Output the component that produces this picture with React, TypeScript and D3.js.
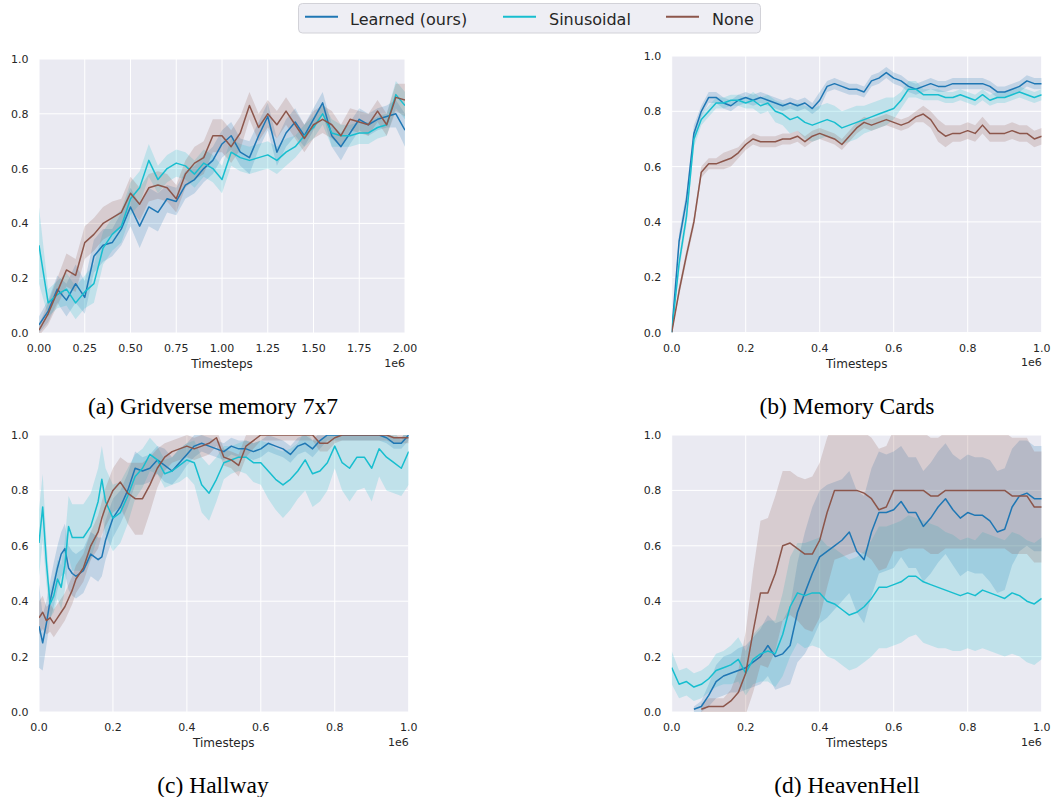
import React from "react";
import * as d3 from "d3";

// Legend / series
const seriesLabels = ["Learned (ours)", "Sinusoidal", "None"];
const seriesColors = ["#1f77b4", "#17becf", "#8c564b"];

// Tick values
const yTicks = [0, 0.2, 0.4, 0.6, 0.8, 1.0];
const gridverseTicks = [0, 0.25, 0.5, 0.75, 1.0, 1.25, 1.5, 1.75, 2.0];
const unitTicks = [0, 0.2, 0.4, 0.6, 0.8, 1.0];

// (a) Gridverse memory 7x7, timesteps in 1e6
const gridverseSteps = [0, 0.05, 0.1, 0.15, 0.2, 0.25, 0.3, 0.35, 0.4, 0.45, 0.5, 0.55, 0.6, 0.65, 0.7, 0.75, 0.8, 0.85, 0.9, 0.95, 1.0, 1.05, 1.1, 1.15, 1.2, 1.25, 1.3, 1.35, 1.4, 1.45, 1.5, 1.55, 1.6, 1.65, 1.7, 1.75, 1.8, 1.85, 1.9, 1.95, 2.0];
const gridverseLearned = [0.03, 0.08, 0.16, 0.12, 0.18, 0.13, 0.28, 0.32, 0.33, 0.38, 0.46, 0.39, 0.46, 0.44, 0.49, 0.48, 0.54, 0.56, 0.6, 0.63, 0.69, 0.72, 0.66, 0.64, 0.72, 0.79, 0.66, 0.73, 0.77, 0.72, 0.78, 0.84, 0.72, 0.68, 0.73, 0.78, 0.76, 0.78, 0.79, 0.8, 0.74];
const gridverseLearnedSpread = [0.03, 0.04, 0.05, 0.06, 0.07, 0.06, 0.06, 0.06, 0.05, 0.06, 0.07, 0.08, 0.07, 0.07, 0.05, 0.05, 0.05, 0.05, 0.05, 0.05, 0.05, 0.05, 0.05, 0.06, 0.05, 0.05, 0.05, 0.05, 0.05, 0.04, 0.04, 0.04, 0.04, 0.05, 0.04, 0.04, 0.04, 0.04, 0.04, 0.05, 0.06];
const gridverseSinusoidal = [0.32, 0.11, 0.14, 0.16, 0.11, 0.15, 0.18, 0.31, 0.36, 0.39, 0.49, 0.53, 0.63, 0.56, 0.6, 0.62, 0.61, 0.58, 0.62, 0.6, 0.56, 0.66, 0.64, 0.63, 0.64, 0.65, 0.63, 0.66, 0.68, 0.72, 0.75, 0.8, 0.73, 0.72, 0.72, 0.73, 0.73, 0.75, 0.76, 0.87, 0.83];
const gridverseSinusoidalSpread = [0.14, 0.05, 0.05, 0.06, 0.06, 0.06, 0.07, 0.06, 0.06, 0.06, 0.06, 0.06, 0.06, 0.05, 0.05, 0.05, 0.05, 0.05, 0.05, 0.05, 0.05, 0.05, 0.05, 0.05, 0.05, 0.05, 0.05, 0.05, 0.04, 0.04, 0.04, 0.04, 0.05, 0.04, 0.04, 0.04, 0.04, 0.04, 0.04, 0.05, 0.05];
const gridverseNone = [0.01, 0.07, 0.15, 0.23, 0.21, 0.33, 0.36, 0.4, 0.42, 0.44, 0.51, 0.47, 0.53, 0.54, 0.53, 0.49, 0.58, 0.62, 0.64, 0.72, 0.72, 0.68, 0.73, 0.83, 0.75, 0.8, 0.76, 0.81, 0.76, 0.71, 0.76, 0.78, 0.76, 0.72, 0.78, 0.77, 0.76, 0.81, 0.76, 0.86, 0.85];
const gridverseNoneSpread = [0.02, 0.04, 0.05, 0.06, 0.06, 0.06, 0.06, 0.06, 0.06, 0.05, 0.06, 0.06, 0.05, 0.05, 0.05, 0.05, 0.05, 0.06, 0.06, 0.06, 0.06, 0.06, 0.06, 0.05, 0.05, 0.05, 0.05, 0.05, 0.05, 0.05, 0.05, 0.05, 0.05, 0.04, 0.04, 0.04, 0.04, 0.04, 0.04, 0.05, 0.06];

// (b) Memory Cards
const memorySteps = [0, 0.02, 0.04, 0.06, 0.08, 0.1, 0.12, 0.14, 0.16, 0.18, 0.2, 0.22, 0.24, 0.26, 0.28, 0.3, 0.32, 0.34, 0.36, 0.38, 0.4, 0.42, 0.44, 0.46, 0.48, 0.5, 0.52, 0.54, 0.56, 0.58, 0.6, 0.62, 0.64, 0.66, 0.68, 0.7, 0.72, 0.74, 0.76, 0.78, 0.8, 0.82, 0.84, 0.86, 0.88, 0.9, 0.92, 0.94, 0.96, 0.98, 1.0];
const memoryLearned = [0.0, 0.33, 0.48, 0.72, 0.8, 0.85, 0.85, 0.83, 0.82, 0.84, 0.85, 0.84, 0.85, 0.84, 0.83, 0.82, 0.83, 0.82, 0.83, 0.81, 0.84, 0.89, 0.9, 0.89, 0.88, 0.88, 0.87, 0.91, 0.92, 0.94, 0.92, 0.91, 0.89, 0.88, 0.89, 0.9, 0.89, 0.89, 0.9, 0.9, 0.9, 0.9, 0.9, 0.89, 0.87, 0.87, 0.88, 0.89, 0.91, 0.9, 0.9];
const memoryLearnedSpread = [0.0, 0.03, 0.03, 0.03, 0.02, 0.02, 0.02, 0.02, 0.02, 0.02, 0.02, 0.02, 0.02, 0.02, 0.02, 0.02, 0.02, 0.02, 0.02, 0.02, 0.03, 0.02, 0.02, 0.02, 0.02, 0.02, 0.02, 0.02, 0.02, 0.02, 0.02, 0.02, 0.02, 0.02, 0.02, 0.02, 0.02, 0.02, 0.02, 0.02, 0.02, 0.02, 0.02, 0.02, 0.02, 0.02, 0.02, 0.02, 0.02, 0.02, 0.02];
const memorySinusoidal = [0.0, 0.25, 0.42, 0.7, 0.77, 0.8, 0.83, 0.83, 0.84, 0.84, 0.83, 0.84, 0.82, 0.83, 0.8, 0.79, 0.77, 0.78, 0.76, 0.75, 0.76, 0.77, 0.76, 0.74, 0.75, 0.76, 0.77, 0.78, 0.79, 0.8, 0.81, 0.84, 0.88, 0.88, 0.86, 0.86, 0.86, 0.85, 0.85, 0.86, 0.85, 0.84, 0.86, 0.84, 0.85, 0.85, 0.86, 0.87, 0.86, 0.85, 0.86];
const memorySinusoidalSpread = [0.0, 0.03, 0.03, 0.03, 0.02, 0.02, 0.02, 0.02, 0.02, 0.02, 0.02, 0.03, 0.03, 0.03, 0.04, 0.04, 0.05, 0.05, 0.06, 0.06, 0.06, 0.06, 0.06, 0.06, 0.06, 0.06, 0.05, 0.05, 0.05, 0.05, 0.04, 0.03, 0.03, 0.03, 0.02, 0.02, 0.02, 0.02, 0.02, 0.02, 0.02, 0.02, 0.02, 0.02, 0.02, 0.02, 0.02, 0.02, 0.02, 0.02, 0.02];
const memoryNone = [0.0, 0.15, 0.28, 0.4, 0.58, 0.61, 0.61, 0.62, 0.63, 0.65, 0.68, 0.7, 0.69, 0.69, 0.69, 0.7, 0.7, 0.71, 0.69, 0.71, 0.72, 0.71, 0.7, 0.68, 0.71, 0.74, 0.76, 0.75, 0.76, 0.77, 0.76, 0.75, 0.76, 0.78, 0.79, 0.77, 0.73, 0.71, 0.72, 0.72, 0.73, 0.72, 0.75, 0.72, 0.72, 0.72, 0.73, 0.72, 0.72, 0.7, 0.71];
const memoryNoneSpread = [0.0, 0.02, 0.02, 0.02, 0.02, 0.02, 0.02, 0.03, 0.03, 0.02, 0.02, 0.02, 0.02, 0.02, 0.02, 0.02, 0.02, 0.02, 0.02, 0.02, 0.02, 0.02, 0.02, 0.02, 0.02, 0.02, 0.02, 0.02, 0.02, 0.02, 0.02, 0.02, 0.02, 0.02, 0.03, 0.03, 0.04, 0.04, 0.03, 0.03, 0.03, 0.03, 0.03, 0.03, 0.03, 0.03, 0.03, 0.03, 0.03, 0.03, 0.03];

// (c) Hallway
const hallwaySteps = [0, 0.01, 0.02, 0.03, 0.04, 0.05, 0.06, 0.07, 0.08, 0.09, 0.1, 0.12, 0.14, 0.16, 0.17, 0.18, 0.2, 0.22, 0.24, 0.26, 0.28, 0.3, 0.32, 0.34, 0.36, 0.38, 0.4, 0.42, 0.44, 0.46, 0.48, 0.5, 0.52, 0.54, 0.56, 0.58, 0.6, 0.62, 0.64, 0.66, 0.68, 0.7, 0.72, 0.74, 0.76, 0.78, 0.8, 0.82, 0.84, 0.86, 0.88, 0.9, 0.92, 0.94, 0.96, 0.98, 1.0];
const hallwayLearned = [0.31, 0.25, 0.32, 0.4, 0.46, 0.52, 0.57, 0.59, 0.52, 0.5, 0.49, 0.51, 0.57, 0.55, 0.56, 0.62, 0.7, 0.74, 0.8, 0.88, 0.87, 0.88, 0.91, 0.89, 0.87, 0.9, 0.93, 0.96, 0.97, 0.96, 0.95, 0.94, 0.96, 0.95, 0.95, 0.94, 0.95, 0.97, 0.96, 0.95, 0.93, 0.96, 0.97, 0.95, 0.98, 1.0, 1.0, 1.0, 1.0, 1.0, 1.0, 1.0, 1.0, 0.99, 0.97, 0.97, 1.0];
const hallwayLearnedSpread = [0.15, 0.1, 0.08, 0.07, 0.08, 0.08, 0.08, 0.09, 0.08, 0.08, 0.08, 0.08, 0.08, 0.08, 0.07, 0.07, 0.07, 0.06, 0.06, 0.06, 0.05, 0.05, 0.05, 0.06, 0.05, 0.05, 0.04, 0.04, 0.03, 0.03, 0.03, 0.03, 0.03, 0.03, 0.03, 0.03, 0.03, 0.03, 0.03, 0.03, 0.03, 0.03, 0.03, 0.03, 0.03, 0.02, 0.02, 0.02, 0.02, 0.02, 0.02, 0.02, 0.02, 0.02, 0.02, 0.02, 0.02];
const hallwaySinusoidal = [0.61, 0.74, 0.54, 0.39, 0.42, 0.48, 0.45, 0.53, 0.67, 0.63, 0.63, 0.63, 0.67, 0.76, 0.84, 0.76, 0.7, 0.72, 0.78, 0.85, 0.88, 0.93, 0.91, 0.86, 0.87, 0.89, 0.91, 0.9, 0.82, 0.79, 0.84, 0.9, 0.91, 0.92, 0.92, 0.9, 0.9, 0.87, 0.84, 0.82, 0.84, 0.87, 0.91, 0.86, 0.87, 0.9, 0.96, 0.9, 0.88, 0.92, 0.92, 0.88, 0.95, 0.92, 0.9, 0.88, 0.94];
const hallwaySinusoidalSpread = [0.12, 0.12, 0.08, 0.05, 0.06, 0.07, 0.08, 0.09, 0.11, 0.12, 0.12, 0.12, 0.12, 0.12, 0.12, 0.12, 0.12, 0.11, 0.1, 0.08, 0.07, 0.06, 0.05, 0.05, 0.05, 0.06, 0.06, 0.08, 0.1, 0.1, 0.08, 0.06, 0.05, 0.05, 0.06, 0.07, 0.08, 0.1, 0.11, 0.12, 0.11, 0.1, 0.11, 0.12, 0.11, 0.1, 0.08, 0.1, 0.12, 0.12, 0.11, 0.12, 0.1, 0.12, 0.11, 0.1, 0.12];
const hallwayNone = [0.34, 0.36, 0.33, 0.34, 0.32, 0.34, 0.36, 0.38, 0.41, 0.44, 0.48, 0.52, 0.6, 0.65, 0.7, 0.74, 0.8, 0.83, 0.79, 0.77, 0.77, 0.82, 0.88, 0.92, 0.94, 0.95, 0.96, 0.95, 0.96, 0.97, 0.99, 0.92, 0.91, 0.89, 0.96, 0.98, 1.0, 1.0, 1.0, 1.0, 1.0, 1.0, 1.0, 1.0, 0.97, 0.97, 0.99, 1.0, 1.0, 1.0, 1.0, 1.0, 1.0, 1.0, 0.99, 0.99, 0.99];
const hallwayNoneSpread = [0.06, 0.06, 0.05, 0.05, 0.05, 0.05, 0.05, 0.05, 0.05, 0.05, 0.05, 0.05, 0.05, 0.06, 0.06, 0.07, 0.08, 0.09, 0.11, 0.13, 0.13, 0.1, 0.07, 0.05, 0.04, 0.04, 0.04, 0.04, 0.04, 0.04, 0.03, 0.03, 0.03, 0.04, 0.04, 0.03, 0.02, 0.02, 0.02, 0.02, 0.02, 0.02, 0.02, 0.02, 0.03, 0.03, 0.02, 0.02, 0.02, 0.02, 0.02, 0.02, 0.02, 0.02, 0.02, 0.02, 0.02];

// (d) HeavenHell (null = below the visible range)
const heavenSteps = memorySteps;
const heavenLearned = [null, null, null, 0.01, 0.02, 0.06, 0.11, 0.13, 0.14, 0.15, 0.16, 0.18, 0.2, 0.24, 0.2, 0.21, 0.24, 0.36, 0.43, 0.5, 0.56, 0.58, 0.6, 0.62, 0.65, 0.58, 0.55, 0.65, 0.72, 0.72, 0.73, 0.76, 0.72, 0.72, 0.67, 0.7, 0.74, 0.77, 0.73, 0.7, 0.72, 0.71, 0.71, 0.69, 0.65, 0.66, 0.74, 0.78, 0.79, 0.77, 0.77];
const heavenLearnedSpread = [0, 0, 0, 0.01, 0.02, 0.04, 0.06, 0.07, 0.07, 0.08, 0.08, 0.09, 0.1, 0.11, 0.12, 0.12, 0.14, 0.18, 0.22, 0.24, 0.24, 0.24, 0.23, 0.22, 0.22, 0.22, 0.23, 0.23, 0.22, 0.21, 0.21, 0.2, 0.2, 0.2, 0.2, 0.2, 0.2, 0.2, 0.2, 0.21, 0.21, 0.21, 0.21, 0.22, 0.22, 0.22, 0.21, 0.2, 0.19, 0.19, 0.19];
const heavenSinusoidal = [0.16, 0.1, 0.11, 0.09, 0.1, 0.12, 0.15, 0.16, 0.17, 0.19, 0.14, 0.19, 0.21, 0.22, 0.21, 0.28, 0.38, 0.43, 0.42, 0.43, 0.43, 0.4, 0.39, 0.37, 0.35, 0.36, 0.38, 0.41, 0.45, 0.45, 0.46, 0.47, 0.49, 0.49, 0.47, 0.46, 0.45, 0.44, 0.43, 0.42, 0.43, 0.42, 0.44, 0.43, 0.42, 0.41, 0.43, 0.42, 0.4, 0.39, 0.41];
const heavenSinusoidalSpread = [0.06, 0.05, 0.05, 0.05, 0.05, 0.05, 0.06, 0.06, 0.07, 0.08, 0.08, 0.09, 0.1, 0.11, 0.12, 0.15, 0.18, 0.18, 0.19, 0.19, 0.2, 0.2, 0.2, 0.2, 0.2, 0.2, 0.2, 0.21, 0.22, 0.22, 0.22, 0.22, 0.22, 0.21, 0.22, 0.22, 0.22, 0.21, 0.21, 0.2, 0.2, 0.2, 0.21, 0.21, 0.21, 0.21, 0.22, 0.22, 0.22, 0.22, 0.22];
const heavenNone = [null, null, null, null, 0.01, 0.02, 0.02, 0.02, 0.04, 0.07, 0.14, 0.29, 0.43, 0.43, 0.5, 0.6, 0.61, 0.59, 0.57, 0.57, 0.62, 0.72, 0.8, 0.8, 0.8, 0.8, 0.79, 0.77, 0.73, 0.74, 0.8, 0.8, 0.8, 0.8, 0.8, 0.78, 0.78, 0.8, 0.8, 0.8, 0.8, 0.8, 0.8, 0.8, 0.8, 0.8, 0.78, 0.78, 0.78, 0.74, 0.74];
const heavenNoneSpread = [0, 0, 0, 0, 0.02, 0.03, 0.03, 0.03, 0.04, 0.08, 0.15, 0.22, 0.26, 0.27, 0.28, 0.27, 0.26, 0.26, 0.27, 0.28, 0.28, 0.27, 0.25, 0.24, 0.23, 0.22, 0.22, 0.22, 0.22, 0.22, 0.22, 0.22, 0.21, 0.21, 0.21, 0.21, 0.21, 0.21, 0.21, 0.21, 0.21, 0.21, 0.21, 0.21, 0.21, 0.21, 0.21, 0.21, 0.21, 0.2, 0.2];

type Pt = { t: number; v: number | null; s: number };
type Box = { left: number; right: number; top: number; bottom: number };

interface PanelProps {
  id: string;
  box: Box;
  xMax: number;
  xTicks: number[];
  xFormat: (n: number) => string;
  steps: number[];
  means: (number | null)[][];
  spreads: number[][];
  caption: string;
  captionX: number;
  captionY: number;
}

const SANS = "DejaVu Sans, sans-serif";
const TEXT = "#262626";

const Panel: React.FC<PanelProps> = ({ id, box, xMax, xTicks, xFormat, steps, means, spreads, caption, captionX, captionY }) => {
  const x = d3.scaleLinear().domain([0, xMax]).range([box.left, box.right]);
  const y = d3.scaleLinear().domain([0, 1]).range([box.bottom, box.top]);

  const area = d3
    .area<Pt>()
    .defined((d) => d.v != null)
    .x((d) => x(d.t))
    .y0((d) => y((d.v as number) - d.s))
    .y1((d) => y((d.v as number) + d.s));
  const line = d3
    .line<Pt>()
    .defined((d) => d.v != null)
    .x((d) => x(d.t))
    .y((d) => y(d.v as number));

  const curves = means.map((m, k) => steps.map((t, i) => ({ t, v: m[i], s: spreads[k][i] })));

  return (
    <g>
      <defs>
        <clipPath id={`clip-${id}`}>
          <rect x={box.left} y={box.top} width={box.right - box.left} height={box.bottom - box.top} />
        </clipPath>
      </defs>
      <rect x={box.left} y={box.top} width={box.right - box.left} height={box.bottom - box.top} fill="#eaeaf2" />
      {/* grid */}
      {xTicks.map((t) => (
        <line key={`gx${t}`} x1={x(t)} x2={x(t)} y1={box.top} y2={box.bottom} stroke="#fff" strokeWidth={1} />
      ))}
      {yTicks.map((t) => (
        <line key={`gy${t}`} x1={box.left} x2={box.right} y1={y(t)} y2={y(t)} stroke="#fff" strokeWidth={1} />
      ))}
      <g clipPath={`url(#clip-${id})`}>
        {curves.map((c, k) => (
          <path key={`a${k}`} d={area(c) || ""} fill={seriesColors[k]} fillOpacity={0.2} stroke="none" />
        ))}
        {curves.map((c, k) => (
          <path key={`l${k}`} d={line(c) || ""} fill="none" stroke={seriesColors[k]} strokeWidth={1.5} strokeLinejoin="round" />
        ))}
      </g>
      {/* tick labels */}
      {xTicks.map((t) => (
        <text key={`tx${t}`} x={x(t)} y={box.bottom + 19} textAnchor="middle" fontFamily={SANS} fontSize={11} fill={TEXT}>
          {xFormat(t)}
        </text>
      ))}
      {yTicks.map((t) => (
        <text key={`ty${t}`} x={box.left - 10.5} y={y(t) + 4} textAnchor="end" fontFamily={SANS} fontSize={11} fill={TEXT}>
          {d3.format(".1f")(t)}
        </text>
      ))}
      <text x={(box.left + box.right) / 2} y={box.bottom + 35} textAnchor="middle" fontFamily={SANS} fontSize={12} fill={TEXT}>
        Timesteps
      </text>
      <text x={box.right} y={box.bottom + 33.5} textAnchor="end" fontFamily={SANS} fontSize={11} fill={TEXT}>
        1e6
      </text>
      <text x={captionX} y={captionY} textAnchor="middle" fontFamily="Liberation Serif, Times New Roman, serif" fontSize={23.5} fill="#000">
        {caption}
      </text>
    </g>
  );
};

const Legend: React.FC = () => {
  const entries = [
    { x: 305, tx: 350 },
    { x: 503, tx: 549 },
    { x: 666, tx: 712 },
  ];
  return (
    <g>
      <rect x={298.5} y={3.5} width={462} height={29.5} rx={4} fill="#eeeef4" stroke="#d2d2d8" strokeWidth={1} />
      {entries.map((e, k) => (
        <g key={k}>
          <line x1={e.x} x2={e.x + 33} y1={16.7} y2={16.7} stroke={seriesColors[k]} strokeWidth={2} />
          <text x={e.tx} y={25} fontFamily={SANS} fontSize={16} fill={TEXT}>
            {seriesLabels[k]}
          </text>
        </g>
      ))}
    </g>
  );
};

const fmt2 = d3.format(".2f");
const fmt1 = d3.format(".1f");

export default function App() {
  return (
    <div style={{ position: "absolute", left: 0, top: 0 }}>
      <svg width={1053} height={797} style={{ display: "block", background: "#fff" }}>
        <Legend />
        <Panel
          id="a"
          box={{ left: 39, right: 405, top: 59, bottom: 333 }}
          xMax={2}
          xTicks={gridverseTicks}
          xFormat={fmt2}
          steps={gridverseSteps}
          means={[gridverseLearned, gridverseSinusoidal, gridverseNone]}
          spreads={[gridverseLearnedSpread, gridverseSinusoidalSpread, gridverseNoneSpread]}
          caption="(a) Gridverse memory 7x7"
          captionX={213}
          captionY={414}
        />
        <Panel
          id="b"
          box={{ left: 671.7, right: 1041.7, top: 56, bottom: 332.5 }}
          xMax={1}
          xTicks={unitTicks}
          xFormat={fmt1}
          steps={memorySteps}
          means={[memoryLearned, memorySinusoidal, memoryNone]}
          spreads={[memoryLearnedSpread, memorySinusoidalSpread, memoryNoneSpread]}
          caption="(b) Memory Cards"
          captionX={847}
          captionY={414}
        />
        <Panel
          id="c"
          box={{ left: 39, right: 408.7, top: 435, bottom: 712 }}
          xMax={1}
          xTicks={unitTicks}
          xFormat={fmt1}
          steps={hallwaySteps}
          means={[hallwayLearned, hallwaySinusoidal, hallwayNone]}
          spreads={[hallwayLearnedSpread, hallwaySinusoidalSpread, hallwayNoneSpread]}
          caption="(c) Hallway"
          captionX={213}
          captionY={793}
        />
        <Panel
          id="d"
          box={{ left: 671.7, right: 1041.7, top: 435, bottom: 712 }}
          xMax={1}
          xTicks={unitTicks}
          xFormat={fmt1}
          steps={heavenSteps}
          means={[heavenLearned, heavenSinusoidal, heavenNone]}
          spreads={[heavenLearnedSpread, heavenSinusoidalSpread, heavenNoneSpread]}
          caption="(d) HeavenHell"
          captionX={847}
          captionY={793}
        />
      </svg>
    </div>
  );
}
